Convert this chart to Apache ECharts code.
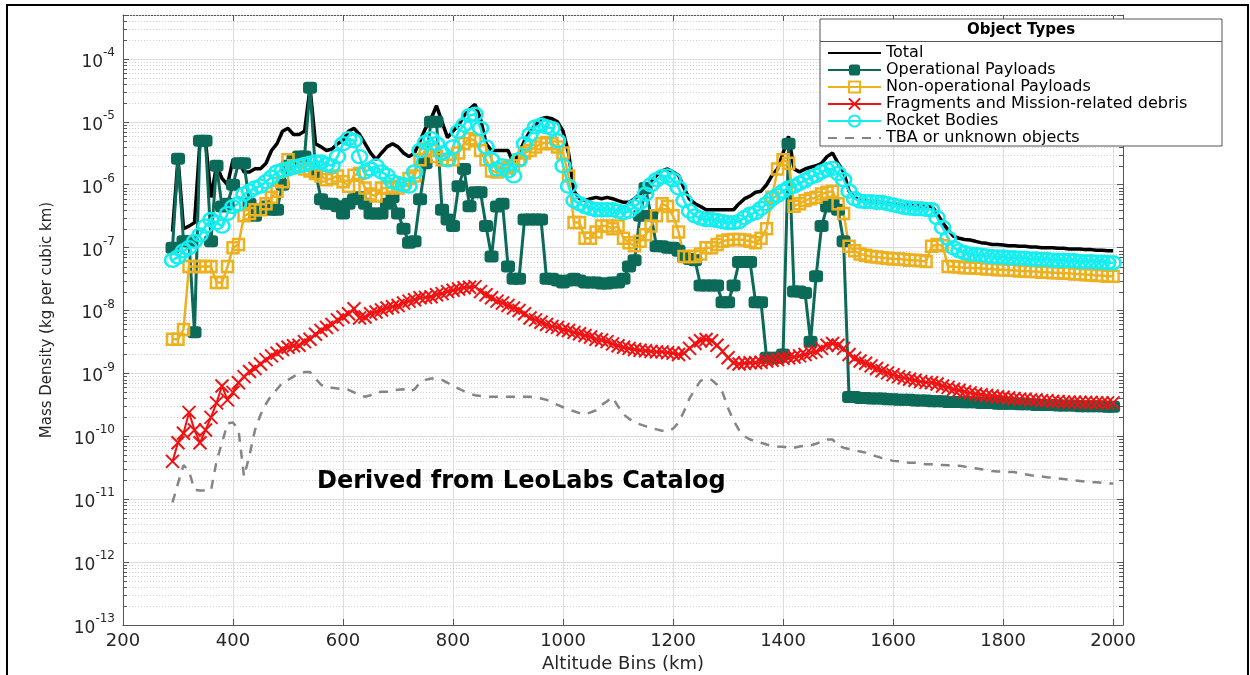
<!DOCTYPE html>
<html lang="en">
<head>
  <meta charset="UTF-8">
  <title>Mass density by altitude</title>
  <script src="https://cdn.jsdelivr.net/npm/echarts@6/dist/echarts.min.js"></script>
  <style>
    * { margin: 0; padding: 0; }
    body { background: #fff; }
    #chart { width: 1250px; height: 675px; }
  </style>
</head>
<body>
  <div id="chart"></div>
  <script>
    // altitude bins (km)
    var altitudes = [
      290, 300, 310, 320, 330, 340, 350, 360, 370, 380,
      390, 400, 410, 420, 430, 440, 450, 460, 470, 480,
      490, 500, 510, 520, 530, 540, 550, 560, 570, 580,
      590, 600, 610, 620, 630, 640, 650, 660, 670, 680,
      690, 700, 710, 720, 730, 740, 750, 760, 770, 780,
      790, 800, 810, 820, 830, 840, 850, 860, 870, 880,
      890, 900, 910, 920, 930, 940, 950, 960, 970, 980,
      990, 1000, 1010, 1020, 1030, 1040, 1050, 1060, 1070, 1080,
      1090, 1100, 1110, 1120, 1130, 1140, 1150, 1160, 1170, 1180,
      1190, 1200, 1210, 1220, 1230, 1240, 1250, 1260, 1270, 1280,
      1290, 1300, 1310, 1320, 1330, 1340, 1350, 1360, 1370, 1380,
      1390, 1400, 1410, 1420, 1430, 1440, 1450, 1460, 1470, 1480,
      1490, 1500, 1510, 1520, 1530, 1540, 1550, 1560, 1570, 1580,
      1590, 1600, 1610, 1620, 1630, 1640, 1650, 1660, 1670, 1680,
      1690, 1700, 1710, 1720, 1730, 1740, 1750, 1760, 1770, 1780,
      1790, 1800, 1810, 1820, 1830, 1840, 1850, 1860, 1870, 1880,
      1890, 1900, 1910, 1920, 1930, 1940, 1950, 1960, 1970, 1980,
      1990, 2000
    ];

    var total = [
      1.8e-7, 2.6e-6, 2.0e-7, 2.2e-7, 2.5e-7, 5.0e-6, 5.0e-6, 6.3e-7, 2.0e-6, 1.26e-6,
      1.0e-6, 2.5e-6, 2.5e-6, 1.6e-6, 1.6e-6, 1.8e-6, 1.8e-6, 2.2e-6, 3.5e-6, 4.5e-6,
      7.1e-6, 7.9e-6, 6.3e-6, 6.3e-6, 7.1e-6, 3.5e-5, 4.5e-6, 4.0e-6, 3.5e-6, 3.7e-6,
      4.5e-6, 5.0e-6, 7.1e-6, 7.9e-6, 6.3e-6, 4.5e-6, 3.2e-6, 2.5e-6, 3.2e-6, 4.0e-6,
      4.5e-6, 4.0e-6, 3.2e-6, 2.8e-6, 3.2e-6, 5.0e-6, 7.9e-6, 1.12e-5, 1.8e-5, 1.0e-5,
      5.6e-6, 7.1e-6, 8.9e-6, 1.26e-5, 1.6e-5, 1.9e-5, 1.12e-5, 4.5e-6, 3.5e-6, 3.5e-6,
      3.5e-6, 3.5e-6, 2.2e-6, 3.2e-6, 5.0e-6, 7.1e-6, 8.9e-6, 1.12e-5, 1.17e-5, 1.12e-5,
      1.0e-5, 7.1e-6, 3.2e-6, 7.9e-7, 6.0e-7, 5.6e-7, 6.0e-7, 6.3e-7, 6.0e-7, 6.3e-7,
      6.0e-7, 5.6e-7, 5.25e-7, 5.25e-7, 6.0e-7, 7.1e-7, 9.3e-7, 1.12e-6, 1.41e-6, 1.66e-6,
      1.78e-6, 1.6e-6, 1.41e-6, 8.9e-7, 5.9e-7, 5.0e-7, 4.5e-7, 4.0e-7, 4.0e-7, 4.0e-7,
      4.0e-7, 4.0e-7, 4.0e-7, 5.0e-7, 6.0e-7, 6.6e-7, 7.6e-7, 7.9e-7, 1.0e-6, 1.41e-6,
      1.78e-6, 3.2e-6, 5.9e-6, 1.78e-6, 1.6e-6, 1.78e-6, 1.9e-6, 2.0e-6, 2.2e-6, 2.8e-6,
      3.2e-6, 2.2e-6, 1.6e-6, 7.9e-7, 6.3e-7, 5.6e-7, 5.6e-7, 5.4e-7, 5.25e-7, 5.25e-7,
      5.0e-7, 5.0e-7, 4.8e-7, 4.7e-7, 4.7e-7, 4.7e-7, 4.57e-7, 4.57e-7, 4.57e-7, 3.5e-7,
      2.5e-7, 1.9e-7, 1.51e-7, 1.41e-7, 1.35e-7, 1.32e-7, 1.26e-7, 1.2e-7, 1.17e-7, 1.12e-7,
      1.12e-7, 1.1e-7, 1.07e-7, 1.07e-7, 1.05e-7, 1.05e-7, 1.02e-7, 1.02e-7, 1.0e-7, 1.0e-7,
      1.0e-7, 9.8e-8, 9.8e-8, 9.5e-8, 9.5e-8, 9.5e-8, 9.3e-8, 9.3e-8, 9.1e-8, 9.1e-8,
      8.9e-8, 8.9e-8
    ];

    var opPayloads = [
      1.0e-7, 2.6e-6, 1.26e-7, 1.26e-7, 4.5e-9, 5.0e-6, 5.0e-6, 1.26e-7, 2.0e-6, 4.5e-7,
      5.0e-7, 1.0e-6, 2.2e-6, 2.2e-6, 5.0e-7, 3.2e-7, 4.0e-7, 4.5e-7, 4.0e-7, 4.0e-7,
      1.0e-6, 2.0e-6, 2.5e-6, 2.8e-6, 2.8e-6, 3.5e-5, 1.6e-6, 5.9e-7, 5.0e-7, 5.0e-7,
      4.57e-7, 3.5e-7, 5.0e-7, 5.9e-7, 6.3e-7, 5.0e-7, 3.5e-7, 3.5e-7, 3.5e-7, 5.0e-7,
      6.3e-7, 3.5e-7, 2.0e-7, 1.2e-7, 1.26e-7, 5.9e-7, 2.2e-6, 1.0e-5, 1.0e-5, 4.0e-7,
      2.8e-7, 2.2e-7, 9.5e-7, 1.78e-6, 4.57e-7, 7.6e-7, 7.6e-7, 2.2e-7, 7.2e-8, 4.5e-7,
      5.0e-7, 5.0e-8, 3.2e-8, 3.2e-8, 2.8e-7, 2.8e-7, 2.8e-7, 2.8e-7, 3.2e-8, 3.2e-8,
      3.0e-8, 2.8e-8, 3.0e-8, 3.2e-8, 3.0e-8, 2.8e-8, 2.8e-8, 2.8e-8, 2.7e-8, 2.7e-8,
      2.8e-8, 2.8e-8, 3.2e-8, 5.0e-8, 6.3e-8, 3.2e-7, 8.9e-7, 3.2e-7, 1.05e-7, 1.05e-7,
      1.0e-7, 1.0e-7, 8.9e-8, 7.1e-8, 6.6e-8, 6.3e-8, 2.5e-8, 2.5e-8, 2.5e-8, 2.5e-8,
      1.35e-8, 1.35e-8, 2.5e-8, 5.9e-8, 5.9e-8, 5.9e-8, 1.35e-8, 1.35e-8, 1.78e-9, 1.78e-9,
      1.78e-9, 2.0e-9, 4.5e-6, 2.0e-8, 2.0e-8, 1.9e-8, 3.2e-9, 3.5e-8, 2.2e-7, 4.5e-7,
      5.0e-7, 4.0e-7, 1.26e-7, 4.2e-10, 4.2e-10, 4.07e-10, 4.07e-10, 4.0e-10, 4.0e-10, 4.0e-10,
      3.9e-10, 3.9e-10, 3.8e-10, 3.8e-10, 3.8e-10, 3.7e-10, 3.7e-10, 3.7e-10, 3.6e-10, 3.6e-10,
      3.6e-10, 3.5e-10, 3.5e-10, 3.5e-10, 3.47e-10, 3.47e-10, 3.47e-10, 3.4e-10, 3.4e-10, 3.4e-10,
      3.3e-10, 3.3e-10, 3.3e-10, 3.3e-10, 3.24e-10, 3.24e-10, 3.24e-10, 3.16e-10, 3.16e-10, 3.16e-10,
      3.16e-10, 3.1e-10, 3.1e-10, 3.1e-10, 3.1e-10, 3.0e-10, 3.0e-10, 3.0e-10, 3.0e-10, 3.0e-10,
      2.95e-10, 2.95e-10
    ];

    var nonOpPayloads = [
      3.5e-9, 3.5e-9, 5.0e-9, 5.0e-8, 5.0e-8, 5.0e-8, 5.0e-8, 5.0e-8, 2.8e-8, 2.8e-8,
      5.0e-8, 1.0e-7, 1.12e-7, 3.2e-7, 3.5e-7, 4.0e-7, 4.0e-7, 5.0e-7, 6.3e-7, 7.9e-7,
      1.12e-6, 2.5e-6, 2.0e-6, 2.0e-6, 1.78e-6, 1.66e-6, 1.51e-6, 1.38e-6, 1.2e-6, 1.26e-6,
      1.38e-6, 1.12e-6, 9.5e-7, 1.41e-6, 1.51e-6, 8.9e-7, 7.1e-7, 6.6e-7, 8.9e-7, 8.9e-7,
      9.5e-7, 8.9e-7, 1.0e-6, 1.26e-6, 1.38e-6, 2.5e-6, 3.7e-6, 3.5e-6, 2.8e-6, 2.5e-6,
      2.5e-6, 2.5e-6, 3.2e-6, 4.5e-6, 5.4e-6, 5.0e-6, 3.5e-6, 2.5e-6, 1.66e-6, 1.6e-6,
      1.78e-6, 1.9e-6, 2.0e-6, 2.5e-6, 3.2e-6, 3.5e-6, 4.0e-6, 4.5e-6, 4.7e-6, 4.5e-6,
      4.0e-6, 3.2e-6, 1.38e-6, 2.5e-7, 2.5e-7, 1.41e-7, 1.41e-7, 1.78e-7, 2.2e-7, 2.2e-7,
      2.0e-7, 2.2e-7, 1.41e-7, 1.2e-7, 1.07e-7, 1.26e-7, 1.6e-7, 2.2e-7, 3.2e-7, 5.0e-7,
      4.5e-7, 3.2e-7, 1.78e-7, 7.2e-8, 7.2e-8, 7.2e-8, 7.9e-8, 1.0e-7, 1.0e-7, 1.12e-7,
      1.26e-7, 1.32e-7, 1.35e-7, 1.35e-7, 1.32e-7, 1.26e-7, 1.2e-7, 1.41e-7, 2.0e-7, 6.3e-7,
      1.78e-6, 2.5e-6, 2.2e-6, 4.57e-7, 5.0e-7, 5.6e-7, 6.0e-7, 6.3e-7, 7.1e-7, 7.6e-7,
      7.9e-7, 5.0e-7, 3.5e-7, 1.05e-7, 8.9e-8, 7.9e-8, 7.6e-8, 7.2e-8, 7.1e-8, 6.9e-8,
      6.8e-8, 6.6e-8, 6.6e-8, 6.5e-8, 6.3e-8, 6.3e-8, 6.2e-8, 6.0e-8, 1.05e-7, 1.12e-7,
      1.07e-7, 5.0e-8, 5.0e-8, 4.9e-8, 4.8e-8, 4.8e-8, 4.7e-8, 4.7e-8, 4.57e-8, 4.57e-8,
      4.47e-8, 4.47e-8, 4.37e-8, 4.37e-8, 4.27e-8, 4.27e-8, 4.17e-8, 4.17e-8, 4.07e-8, 4.07e-8,
      4.0e-8, 4.0e-8, 3.9e-8, 3.9e-8, 3.8e-8, 3.8e-8, 3.7e-8, 3.7e-8, 3.6e-8, 3.6e-8,
      3.5e-8, 3.5e-8
    ];

    var fragments = [
      4.0e-11, 7.9e-11, 1.12e-10, 2.4e-10, 1.26e-10, 7.9e-11, 1.26e-10, 2.0e-10, 3.4e-10, 6.3e-10,
      3.8e-10, 5.0e-10, 7.1e-10, 8.9e-10, 1.07e-9, 1.2e-9, 1.41e-9, 1.66e-9, 1.9e-9, 2.1e-9,
      2.4e-9, 2.6e-9, 2.75e-9, 2.8e-9, 3.2e-9, 3.5e-9, 4.2e-9, 4.8e-9, 5.4e-9, 6.0e-9,
      7.1e-9, 7.9e-9, 8.9e-9, 1.07e-8, 7.6e-9, 7.9e-9, 8.9e-9, 9.5e-9, 1.02e-8, 1.1e-8,
      1.15e-8, 1.2e-8, 1.32e-8, 1.41e-8, 1.48e-8, 1.6e-8, 1.62e-8, 1.66e-8, 1.78e-8, 1.86e-8,
      2.0e-8, 2.1e-8, 2.2e-8, 2.3e-8, 2.34e-8, 2.4e-8, 2.0e-8, 1.78e-8, 1.6e-8, 1.41e-8,
      1.32e-8, 1.2e-8, 1.1e-8, 1.0e-8, 8.9e-9, 7.6e-9, 7.1e-9, 6.5e-9, 6.0e-9, 5.6e-9,
      5.4e-9, 5.0e-9, 4.8e-9, 4.5e-9, 4.27e-9, 4.0e-9, 3.8e-9, 3.5e-9, 3.4e-9, 3.2e-9,
      2.95e-9, 2.75e-9, 2.6e-9, 2.5e-9, 2.4e-9, 2.34e-9, 2.3e-9, 2.24e-9, 2.2e-9, 2.2e-9,
      2.14e-9, 2.1e-9, 2.0e-9, 2.1e-9, 2.5e-9, 3.0e-9, 3.3e-9, 3.47e-9, 3.3e-9, 2.8e-9,
      2.24e-9, 1.78e-9, 1.48e-9, 1.41e-9, 1.45e-9, 1.48e-9, 1.48e-9, 1.51e-9, 1.58e-9, 1.62e-9,
      1.66e-9, 1.74e-9, 1.78e-9, 1.82e-9, 1.9e-9, 2.0e-9, 2.14e-9, 2.24e-9, 2.5e-9, 2.8e-9,
      3.0e-9, 2.8e-9, 2.5e-9, 2.0e-9, 1.74e-9, 1.58e-9, 1.45e-9, 1.32e-9, 1.2e-9, 1.1e-9,
      1.02e-9, 9.5e-10, 8.9e-10, 8.5e-10, 8.1e-10, 7.8e-10, 7.4e-10, 7.2e-10, 7.1e-10, 6.8e-10,
      6.3e-10, 6.0e-10, 5.6e-10, 5.4e-10, 5.1e-10, 4.9e-10, 4.7e-10, 4.57e-10, 4.47e-10, 4.37e-10,
      4.27e-10, 4.17e-10, 4.07e-10, 4.0e-10, 3.9e-10, 3.9e-10, 3.8e-10, 3.8e-10, 3.7e-10, 3.7e-10,
      3.6e-10, 3.6e-10, 3.5e-10, 3.5e-10, 3.5e-10, 3.47e-10, 3.47e-10, 3.47e-10, 3.4e-10, 3.4e-10,
      3.4e-10, 3.4e-10
    ];

    var rocketBodies = [
      6.3e-8, 7.1e-8, 8.9e-8, 1.0e-7, 1.26e-7, 1.6e-7, 2.2e-7, 2.8e-7, 2.5e-7, 2.2e-7,
      3.5e-7, 4.5e-7, 5.0e-7, 7.1e-7, 7.9e-7, 8.9e-7, 9.5e-7, 1.12e-6, 1.32e-6, 1.6e-6,
      1.7e-6, 1.78e-6, 1.9e-6, 2.0e-6, 2.1e-6, 2.2e-6, 2.3e-6, 2.3e-6, 2.1e-6, 2.0e-6,
      2.8e-6, 4.5e-6, 5.4e-6, 5.0e-6, 2.8e-6, 1.6e-6, 1.78e-6, 2.0e-6, 1.6e-6, 1.41e-6,
      1.12e-6, 1.05e-6, 1.0e-6, 9.5e-7, 1.6e-6, 3.5e-6, 4.7e-6, 5.4e-6, 4.5e-6, 3.2e-6,
      2.5e-6, 4.0e-6, 7.1e-6, 8.9e-6, 1.26e-5, 1.32e-5, 7.9e-6, 4.0e-6, 2.5e-6, 1.78e-6,
      2.0e-6, 1.66e-6, 1.38e-6, 2.5e-6, 4.5e-6, 6.3e-6, 8.3e-6, 8.9e-6, 8.3e-6, 7.9e-6,
      5.0e-6, 2.0e-6, 9.5e-7, 5.6e-7, 5.0e-7, 4.5e-7, 4.2e-7, 4.0e-7, 4.0e-7, 4.0e-7,
      4.0e-7, 3.8e-7, 3.6e-7, 3.8e-7, 4.5e-7, 5.25e-7, 7.1e-7, 1.0e-6, 1.2e-6, 1.35e-6,
      1.38e-6, 1.2e-6, 8.9e-7, 5.6e-7, 3.8e-7, 3.2e-7, 2.95e-7, 2.8e-7, 2.8e-7, 2.7e-7,
      2.6e-7, 2.5e-7, 2.5e-7, 2.6e-7, 3.0e-7, 3.4e-7, 3.6e-7, 4.2e-7, 5.0e-7, 6.0e-7,
      6.8e-7, 7.9e-7, 8.9e-7, 9.5e-7, 1.05e-6, 1.17e-6, 1.32e-6, 1.41e-6, 1.6e-6, 1.74e-6,
      1.82e-6, 1.51e-6, 1.2e-6, 7.9e-7, 6.0e-7, 5.5e-7, 5.4e-7, 5.4e-7, 5.25e-7, 5.25e-7,
      5.0e-7, 4.8e-7, 4.57e-7, 4.37e-7, 4.27e-7, 4.17e-7, 4.17e-7, 4.07e-7, 4.0e-7, 3.0e-7,
      2.1e-7, 1.41e-7, 1.0e-7, 8.9e-8, 8.3e-8, 7.9e-8, 7.8e-8, 7.6e-8, 7.4e-8, 7.2e-8,
      7.1e-8, 7.1e-8, 6.9e-8, 6.9e-8, 6.8e-8, 6.8e-8, 6.6e-8, 6.6e-8, 6.5e-8, 6.5e-8,
      6.3e-8, 6.3e-8, 6.3e-8, 6.2e-8, 6.2e-8, 6.0e-8, 6.0e-8, 6.0e-8, 5.9e-8, 5.9e-8,
      5.75e-8, 5.75e-8
    ];

    var tbaUnknown = [
      8.9e-12, 1.78e-11, 3.5e-11, 2.8e-11, 1.41e-11, 1.38e-11, 1.38e-11, 1.38e-11, 4.0e-11, 7.9e-11,
      1.6e-10, 1.66e-10, 1.26e-10, 2.3e-11, 5.0e-11, 1.26e-10, 2.2e-10, 3.3e-10, 4.5e-10, 5.6e-10,
      7.1e-10, 7.9e-10, 8.9e-10, 1.0e-9, 1.05e-9, 1.05e-9, 8.3e-10, 6.6e-10, 6.0e-10, 5.9e-10,
      5.75e-10, 5.6e-10, 5.5e-10, 5.0e-10, 4.5e-10, 4.27e-10, 4.5e-10, 5.0e-10, 5.1e-10, 5.1e-10,
      5.4e-10, 5.5e-10, 5.6e-10, 5.1e-10, 5.6e-10, 7.1e-10, 7.9e-10, 8.3e-10, 8.3e-10, 7.9e-10,
      7.1e-10, 6.3e-10, 5.75e-10, 5.25e-10, 4.8e-10, 4.5e-10, 4.37e-10, 4.27e-10, 4.27e-10, 4.27e-10,
      4.27e-10, 4.27e-10, 4.27e-10, 4.27e-10, 4.27e-10, 4.27e-10, 4.17e-10, 4.0e-10, 3.8e-10, 3.47e-10,
      3.16e-10, 2.9e-10, 2.7e-10, 2.5e-10, 2.34e-10, 2.24e-10, 2.4e-10, 2.6e-10, 3.16e-10, 3.6e-10,
      4.17e-10, 3.0e-10, 2.24e-10, 1.9e-10, 1.7e-10, 1.55e-10, 1.45e-10, 1.35e-10, 1.29e-10, 1.23e-10,
      1.2e-10, 1.32e-10, 1.66e-10, 2.5e-10, 4.0e-10, 5.6e-10, 7.6e-10, 8.3e-10, 7.9e-10, 6.6e-10,
      5.0e-10, 2.8e-10, 1.78e-10, 1.26e-10, 1.0e-10, 8.9e-11, 8.3e-11, 7.9e-11, 7.4e-11, 7.1e-11,
      6.9e-11, 6.8e-11, 6.6e-11, 6.6e-11, 6.9e-11, 7.1e-11, 7.2e-11, 7.6e-11, 8.3e-11, 8.9e-11,
      8.9e-11, 7.1e-11, 6.6e-11, 6.3e-11, 6.0e-11, 5.75e-11, 5.5e-11, 5.1e-11, 4.8e-11, 4.5e-11,
      4.27e-11, 4.07e-11, 4.0e-11, 3.9e-11, 3.8e-11, 3.8e-11, 3.7e-11, 3.6e-11, 3.6e-11, 3.5e-11,
      3.5e-11, 3.47e-11, 3.4e-11, 3.4e-11, 3.3e-11, 3.16e-11, 3.1e-11, 3.0e-11, 2.9e-11, 2.8e-11,
      2.75e-11, 2.75e-11, 2.7e-11, 2.7e-11, 2.6e-11, 2.5e-11, 2.4e-11, 2.34e-11, 2.3e-11, 2.24e-11,
      2.2e-11, 2.14e-11, 2.1e-11, 2.04e-11, 2.0e-11, 1.95e-11, 1.9e-11, 1.86e-11, 1.86e-11, 1.82e-11,
      1.78e-11, 1.78e-11
    ];

    // log axis decorations: minor grid at 2..9 x each decade
    var decades = [1e-13, 1e-12, 1e-11, 1e-10, 1e-9, 1e-8, 1e-7, 1e-6, 1e-5, 1e-4];
    var minorSteps = [2, 3, 4, 5, 6, 7, 8, 9];
    var yMin = 1e-13, yMax = 5e-4;
    var xMin = 200, xMax = 2018;

    var font = 'DejaVu Sans';
    var green = '#0b6a58', yellow = '#edb120', red = '#f01212', cyan = '#14eef0', grey = '#858585';
    var clear = 'rgba(255,255,255,0)';

    function pairs(vals) {
      return altitudes.map(function (a, i) { return [a, vals[i]]; });
    }

    var minorLines = [];
    decades.forEach(function (d) {
      minorSteps.forEach(function (m) {
        if (d * m < yMax * 1.001) minorLines.push([xMin, d * m]);
      });
    });

    function renderMinor(params, api) {
      var cs = params.coordSys;
      var y = Math.round(api.coord([xMin, api.value(1)])[1]) + 0.5;
      var r = cs.x + cs.width;
      return {
        type: 'group',
        children: [
          { type: 'line', shape: { x1: cs.x, y1: y, x2: r, y2: y }, style: { stroke: '#d2d2d2', lineWidth: 1, lineDash: [1, 2] } },
          { type: 'line', shape: { x1: cs.x, y1: y, x2: cs.x + 4, y2: y }, style: { stroke: '#555', lineWidth: 1 } },
          { type: 'line', shape: { x1: r - 4, y1: y, x2: r, y2: y }, style: { stroke: '#555', lineWidth: 1 } }
        ]
      };
    }

    var names = ['Total', 'Operational Payloads', 'Non-operational Payloads',
      'Fragments and Mission-related debris', 'Rocket Bodies', 'TBA or unknown objects'];

    var chart = echarts.init(document.getElementById('chart'));

    var option = {
      animation: false,
      backgroundColor: '#fff',
      grid: { left: 123, right: 127, top: 15, bottom: 50, outerBoundsMode: 'none' },
      legend: {
        orient: 'vertical', left: 827, top: 45, padding: 0, itemGap: 1, itemWidth: 53, itemHeight: 14,
        selectedMode: false, data: names,
        textStyle: { fontFamily: font, fontSize: 16, color: '#000' }
      },
      xAxis: [{
        type: 'value', min: xMin, max: xMax, interval: 200,
        name: 'Altitude Bins (km)', nameLocation: 'middle', nameGap: 26,
        nameTextStyle: { fontFamily: font, fontSize: 18, color: '#262626' },
        axisLine: { show: true, onZero: false, lineStyle: { color: '#555' } },
        axisTick: { inside: true, length: 6, lineStyle: { color: '#555' } },
        axisLabel: {
          margin: 7, fontFamily: font, fontSize: 18, color: '#262626',
          formatter: function (v) { return v % 200 === 0 ? String(v) : ''; }
        },
        splitLine: { show: true, lineStyle: { color: '#dcdcdc' } }
      }, {
        type: 'value', position: 'top', min: xMin, max: xMax, interval: 200,
        axisLine: { show: true, onZero: false, lineStyle: { color: '#555' } },
        axisTick: { inside: true, length: 6, lineStyle: { color: '#555' } },
        axisLabel: { show: false }, splitLine: { show: false }
      }],
      yAxis: [{
        type: 'log', logBase: 10, min: yMin, max: yMax, splitNumber: 10,
        name: 'Mass Density (kg per cubic km)', nameLocation: 'middle', nameGap: 68,
        nameTextStyle: { fontFamily: font, fontSize: 15, color: '#262626' },
        axisLine: { show: true, lineStyle: { color: '#555' } },
        axisTick: { inside: true, length: 6, lineStyle: { color: '#555' } },
        axisLabel: {
          margin: 8,
          formatter: function (v) {
            var p = Math.log10(v), e = Math.round(p);
            if (Math.abs(p - e) > 1e-6) return '';
            return '{b|10}{e|' + e + '}';
          },
          rich: {
            b: { fontFamily: font, fontSize: 17, color: '#262626', padding: [7, 0, 0, 0] },
            e: { fontFamily: font, fontSize: 12, color: '#262626', verticalAlign: 'top' }
          }
        },
        splitLine: { show: true, lineStyle: { color: '#dcdcdc' } }
      }, {
        type: 'log', logBase: 10, min: yMin, max: yMax, splitNumber: 10, position: 'right',
        axisLine: { show: true, lineStyle: { color: '#555' } },
        axisTick: { inside: true, length: 6, lineStyle: { color: '#555' } },
        axisLabel: { show: false }, splitLine: { show: false }
      }],
      graphic: [
        { type: 'rect', shape: { x: 7, y: 5, width: 1241, height: 676 }, style: { fill: 'none', stroke: '#000', lineWidth: 2 }, silent: true, z: 10 },
        { type: 'rect', shape: { x: 820, y: 19, width: 402, height: 127 }, style: { fill: '#fff', stroke: '#555', lineWidth: 1 }, silent: true, z: 3 },
        { type: 'line', shape: { x1: 820, y1: 41.5, x2: 1222, y2: 41.5 }, style: { stroke: '#555', lineWidth: 1 }, silent: true, z: 3 },
        { type: 'text', x: 1021, y: 30, silent: true, z: 5,
          style: { text: 'Object Types', font: 'bold 15px "DejaVu Sans"', fill: '#000', align: 'center', verticalAlign: 'middle' } },
        { type: 'text', x: 317, y: 482, silent: true, z: 5,
          style: { text: 'Derived from LeoLabs Catalog', font: 'bold 24px "DejaVu Sans"', fill: '#000', align: 'left', verticalAlign: 'middle' } }
      ],
      series: [
        {
          type: 'custom', name: 'minor', silent: true, z: 1,
          renderItem: renderMinor, data: minorLines, encode: { x: 0, y: 1 }
        },
        {
          name: names[0], type: 'line', data: pairs(total),
          symbol: 'rect', showSymbol: false,
          lineStyle: { color: '#000', width: 3.5 }, itemStyle: { color: clear }
        },
        {
          name: names[1], type: 'line', data: pairs(opPayloads),
          symbol: 'roundRect', symbolSize: [14, 12],
          lineStyle: { color: green, width: 3 }, itemStyle: { color: green }
        },
        {
          name: names[2], type: 'line', data: pairs(nonOpPayloads),
          symbol: 'rect', symbolSize: 11,
          lineStyle: { color: yellow, width: 2.5 },
          itemStyle: { color: clear, borderColor: yellow, borderWidth: 2.5 }
        },
        {
          name: names[3], type: 'line', data: pairs(fragments),
          symbol: 'path://M0,0L10,10M10,0L0,10', symbolSize: 13,
          lineStyle: { color: red, width: 2 },
          itemStyle: { color: red, borderColor: red, borderWidth: 2 }
        },
        {
          name: names[4], type: 'line', data: pairs(rocketBodies),
          symbol: 'circle', symbolSize: [15, 13],
          lineStyle: { color: cyan, width: 2.5 },
          itemStyle: { color: clear, borderColor: cyan, borderWidth: 2.5 }
        },
        {
          name: names[5], type: 'line', data: pairs(tbaUnknown),
          symbol: 'rect', showSymbol: false,
          lineStyle: { color: grey, width: 2.5, type: [9, 8] }, itemStyle: { color: clear }
        }
      ]
    };

    chart.setOption(option);
  </script>
</body>
</html>
